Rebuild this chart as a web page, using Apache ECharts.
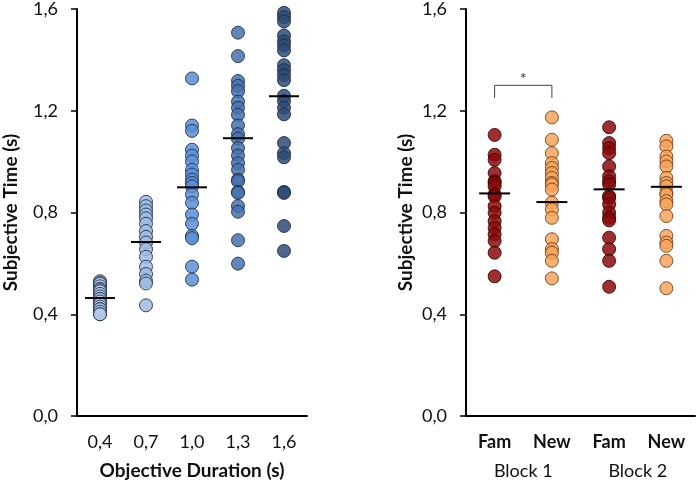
<!DOCTYPE html>
<html>
<head>
<meta charset="utf-8">
<script src="https://cdn.jsdelivr.net/npm/echarts@6/dist/echarts.min.js"></script>
<style>html,body{margin:0;padding:0;background:#fff}#c{width:697px;height:487px}</style>
</head>
<body>
<div id="c"></div>
<script>
// ---- data ----
const durCategories = ['0,4', '0,7', '1,0', '1,3', '1,6'];
const dur04 = [0.53,0.525,0.52,0.51,0.50,0.495,0.49,0.48,0.47,0.46,0.46,0.45,0.44,0.44,0.43,0.42,0.42,0.41,0.40,0.40];
const dur07 = [0.842,0.825,0.808,0.792,0.777,0.756,0.727,0.704,0.682,0.656,0.626,0.587,0.558,0.532,0.521,0.435];
const dur10 = [1.327,1.142,1.121,1.047,1.024,1.001,0.968,0.949,0.929,0.916,0.903,0.871,0.838,0.792,0.756,0.708,0.699,0.587,0.536];
const dur13 = [1.507,1.415,1.317,1.298,1.277,1.236,1.212,1.184,1.142,1.108,1.090,1.053,1.024,0.994,0.968,0.929,0.923,0.881,0.877,0.825,0.803,0.691,0.599];
const dur16 = [1.585,1.568,1.551,1.496,1.473,1.457,1.437,1.379,1.36,1.34,1.32,1.259,1.238,1.212,1.186,1.073,1.033,1.017,0.881,0.877,0.747,0.649];
const durMeans = [0.464, 0.684, 0.899, 1.092, 1.257];

const condCategories = ['Fam', 'New', 'Fam', 'New'];
const blockCategories = ['Block 1', 'Block 2'];
const fam1 = [1.105,1.027,1.007,0.955,0.923,0.916,0.903,0.871,0.864,0.825,0.799,0.766,0.740,0.714,0.688,0.642,0.549];
const new1 = [1.174,1.086,1.033,0.994,0.975,0.955,0.936,0.916,0.91,0.890,0.838,0.812,0.779,0.695,0.656,0.642,0.61,0.541];
const fam2 = [1.135,1.073,1.053,1.033,0.981,0.942,0.923,0.910,0.864,0.857,0.832,0.799,0.779,0.769,0.701,0.656,0.61,0.508];
const new2 = [1.082,1.06,1.020,1.001,0.981,0.936,0.916,0.903,0.877,0.871,0.845,0.832,0.786,0.708,0.682,0.669,0.61,0.502];
const condMeans = [0.875, 0.841, 0.891, 0.901];
const bracketLow = 1.25, bracketHigh = 1.30, starY = 1.335;
const yTicks = [0, 0.4, 0.8, 1.2, 1.6];

// ---- styles ----
const FONT = 'Lato, "Liberation Sans", sans-serif';
const durColors = ['#b3c8e8', '#a0bbe2', '#5b8ed5', '#4871ad', '#2e4b74'];
const condColors = ['#8b0a0a', '#f6a35a', '#8b0a0a', '#f6a35a'];
const condBorders = ['#3a0000', '#6b3a14', '#3a0000', '#6b3a14'];

function fmt(v) { return v.toFixed(1).replace('.', ','); }

const yAxisBase = (gi, gap) => ({
  type: 'value', gridIndex: gi, min: yTicks[0], max: yTicks[yTicks.length - 1], interval: 0.4,
  axisLine: { show: true, lineStyle: { color: '#000', width: 2 } },
  axisTick: { show: true, length: 6, lineStyle: { color: '#000', width: 1.5 } },
  splitLine: { show: false },
  axisLabel: { formatter: fmt, fontSize: 18, color: '#111', fontFamily: FONT, margin: 19 },
  name: 'Subjective Time (s)', nameLocation: 'middle', nameGap: gap,
  nameTextStyle: { fontSize: 19, fontWeight: 'bold', color: '#111', fontFamily: FONT }
});

const durGroups = [dur04, dur07, dur10, dur13, dur16];
const condGroups = [fam1, new1, fam2, new2];

const series = [];
durGroups.forEach((g, i) => {
  series.push({
    type: 'scatter', xAxisIndex: 0, yAxisIndex: 0, symbolSize: 13,
    data: g.map(v => [i, v]),
    itemStyle: { color: durColors[i], opacity: 0.85, borderColor: '#1c2c48', borderWidth: 1 },
    z: 2
  });
});
series.push({
  type: 'scatter', xAxisIndex: 0, yAxisIndex: 0, symbol: 'rect', symbolSize: [30, 2],
  data: durMeans.map((v, i) => [i, v]), itemStyle: { color: '#000', opacity: 1 }, z: 5
});
condGroups.forEach((g, i) => {
  series.push({
    type: 'scatter', xAxisIndex: 1, yAxisIndex: 1, symbolSize: 13,
    data: g.map(v => [i, v]),
    itemStyle: { color: condColors[i], opacity: 0.85, borderColor: condBorders[i], borderWidth: 1 },
    z: 2
  });
});
series.push({
  type: 'scatter', xAxisIndex: 1, yAxisIndex: 1, symbol: 'rect', symbolSize: [31, 2],
  data: condMeans.map((v, i) => [i, v]), itemStyle: { color: '#000', opacity: 1 }, z: 5
});
series.push({
  type: 'line', xAxisIndex: 1, yAxisIndex: 1, symbol: 'none', silent: true,
  data: [[0, bracketLow], [0, bracketHigh], [1, bracketHigh], [1, bracketLow]],
  lineStyle: { color: '#444', width: 1 }, z: 3
});

const chart = echarts.init(document.getElementById('c'), null, { renderer: 'canvas' });
chart.setOption({
  animation: false,
  backgroundColor: '#fff',
  grid: [
    { left: 77, top: 6, width: 230, height: 410 },
    { left: 466, top: 6, width: 229, height: 410 }
  ],
  xAxis: [
    {
      type: 'category', gridIndex: 0, data: durCategories,
      axisLine: { lineStyle: { color: '#000', width: 2 } },
      axisTick: { length: 5, lineStyle: { color: '#000', width: 1.5 } },
      axisLabel: { fontSize: 18, color: '#111', fontFamily: FONT, margin: 17 },
      name: 'Objective Duration (s)', nameLocation: 'middle', nameGap: 45,
      nameTextStyle: { fontSize: 19, fontWeight: 'bold', color: '#111', fontFamily: FONT }
    },
    {
      type: 'category', gridIndex: 1, data: condCategories,
      axisLine: { lineStyle: { color: '#000', width: 2 } },
      axisTick: { length: 5, lineStyle: { color: '#000', width: 1.5 } },
      axisLabel: { fontSize: 18, fontWeight: 'bold', color: '#111', fontFamily: FONT, margin: 17 }
    },
    {
      type: 'category', gridIndex: 1, data: blockCategories, position: 'bottom',
      axisLine: { show: false }, axisTick: { show: false },
      axisLabel: { fontSize: 18, color: '#111', fontFamily: FONT, margin: 46 }
    }
  ],
  yAxis: [yAxisBase(0, 57), yAxisBase(1, 51)],
  series: series
});

const p0 = chart.convertToPixel({ xAxisIndex: 1, yAxisIndex: 1 }, [0, starY]);
const p1 = chart.convertToPixel({ xAxisIndex: 1, yAxisIndex: 1 }, [1, starY]);
chart.setOption({
  graphic: [{
    type: 'text', x: (p0[0] + p1[0]) / 2, y: p0[1] + 2,
    style: { text: '*', fontSize: 16, fill: '#333', fontFamily: FONT, textAlign: 'center', textVerticalAlign: 'middle' }
  }]
});
</script>
</body>
</html>
